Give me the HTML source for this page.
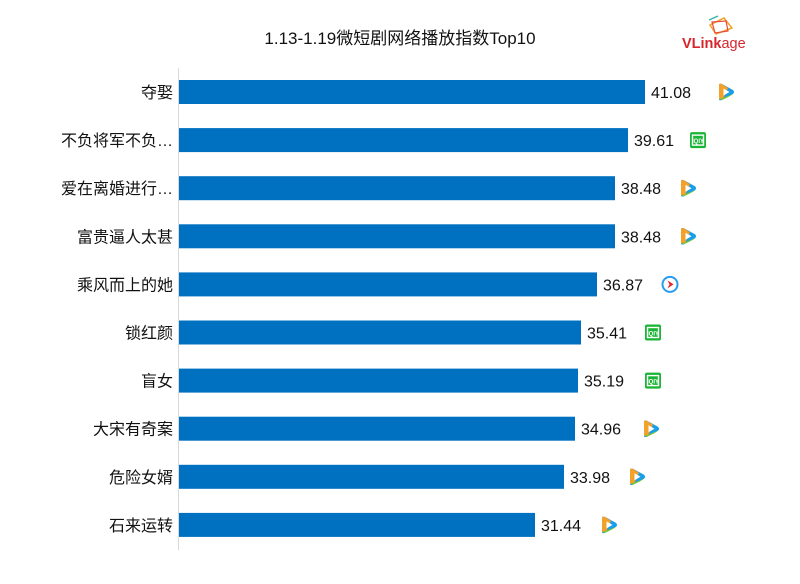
<!DOCTYPE html>
<html><head><meta charset="utf-8"><style>
html,body{margin:0;padding:0;background:#fff;}
svg{display:block;font-family:"Liberation Sans","Noto Sans CJK SC",sans-serif;}
</style></head><body>
<svg width="800" height="584" viewBox="0 0 800 584" xmlns="http://www.w3.org/2000/svg">
<defs>
<g id="tx"><path d="M-7,-7 Q-7,-9 -4,-8 L7,-2 Q9,0 7,2 L-4,8 Q-7,9 -7,7 Z" fill="#1a9ee8"/><path d="M-7,-7 Q-7,-9 -4,-8 L2,-4 L-3,7 L-7,7Z" fill="#f2a12a"/><path d="M-7,7 L-3,6 L7,2 Q5,4 -4,8Z" fill="#7cc531"/><path d="M-2.5,-3.5 L3.5,0 L-2.5,3.5 Z" fill="#fff"/></g>
<g id="iq"><rect x="-8" y="-8" width="16" height="16" rx="2" fill="#19b534"/><rect x="-5.5" y="-5" width="11" height="10" fill="none" stroke="#fff" stroke-width="1.4"/><text x="0" y="3" font-size="6" fill="#fff" text-anchor="middle" font-weight="bold">IQIY</text></g>
<g id="yk"><circle r="7.5" fill="#fff" stroke="#2a9cf0" stroke-width="2"/><path d="M-2.5,-4 L3.5,0 L-2.5,4 L-0.5,0Z" fill="#e8242d"/></g>
</defs>
<text x="400" y="44" font-size="17" text-anchor="middle" fill="#111">1.13-1.19微短剧网络播放指数Top10</text>
<g transform="translate(712,28)"><path d="M-2,-3 L12,-10 L20,0 L4,6Z" fill="none" stroke="#f2a12a" stroke-width="1.5"/><path d="M0,-6 L14,-7 L16,3 L3,5Z" fill="none" stroke="#e84b3c" stroke-width="1.2"/><path d="M-3,-8 L6,-12" stroke="#3bb4a6" stroke-width="1.5"/></g>
<text x="682" y="48" font-size="14.5" fill="#d6262c"><tspan font-weight="bold">VLink</tspan><tspan>age</tspan></text>
<line x1="178.5" y1="68" x2="178.5" y2="550" stroke="#d9d9d9" stroke-width="1"/>
<g font-size="16" fill="#111">
<g transform="translate(0,92)"><text x="173" y="6" text-anchor="end">夺娶</text><rect x="179" y="-12" width="466" height="24" fill="#0070c0"/><text x="651" y="6">41.08</text><use href="#tx" x="726" y="0"/></g>
<g transform="translate(0,140.1)"><text x="173" y="6" text-anchor="end">不负将军不负…</text><rect x="179" y="-12" width="449" height="24" fill="#0070c0"/><text x="634" y="6">39.61</text><use href="#iq" x="698" y="0"/></g>
<g transform="translate(0,188.2)"><text x="173" y="6" text-anchor="end">爱在离婚进行…</text><rect x="179" y="-12" width="436" height="24" fill="#0070c0"/><text x="621" y="6">38.48</text><use href="#tx" x="688" y="0"/></g>
<g transform="translate(0,236.3)"><text x="173" y="6" text-anchor="end">富贵逼人太甚</text><rect x="179" y="-12" width="436" height="24" fill="#0070c0"/><text x="621" y="6">38.48</text><use href="#tx" x="688" y="0"/></g>
<g transform="translate(0,284.4)"><text x="173" y="6" text-anchor="end">乘风而上的她</text><rect x="179" y="-12" width="418" height="24" fill="#0070c0"/><text x="603" y="6">36.87</text><use href="#yk" x="670" y="0"/></g>
<g transform="translate(0,332.5)"><text x="173" y="6" text-anchor="end">锁红颜</text><rect x="179" y="-12" width="402" height="24" fill="#0070c0"/><text x="587" y="6">35.41</text><use href="#iq" x="653" y="0"/></g>
<g transform="translate(0,380.6)"><text x="173" y="6" text-anchor="end">盲女</text><rect x="179" y="-12" width="399" height="24" fill="#0070c0"/><text x="584" y="6">35.19</text><use href="#iq" x="653" y="0"/></g>
<g transform="translate(0,428.7)"><text x="173" y="6" text-anchor="end">大宋有奇案</text><rect x="179" y="-12" width="396" height="24" fill="#0070c0"/><text x="581" y="6">34.96</text><use href="#tx" x="651" y="0"/></g>
<g transform="translate(0,476.8)"><text x="173" y="6" text-anchor="end">危险女婿</text><rect x="179" y="-12" width="385" height="24" fill="#0070c0"/><text x="570" y="6">33.98</text><use href="#tx" x="637" y="0"/></g>
<g transform="translate(0,524.9)"><text x="173" y="6" text-anchor="end">石来运转</text><rect x="179" y="-12" width="356" height="24" fill="#0070c0"/><text x="541" y="6">31.44</text><use href="#tx" x="609" y="0"/></g>
</g>
</svg>
</body></html>
